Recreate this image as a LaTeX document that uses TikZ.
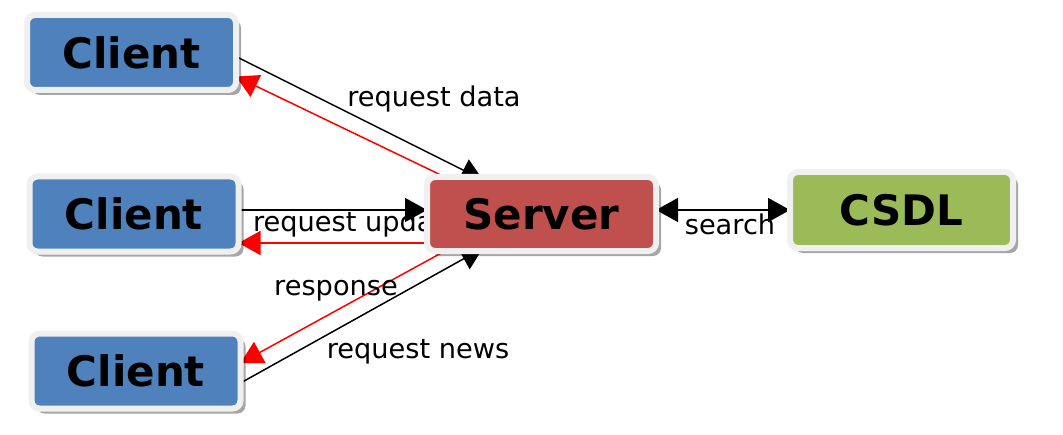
\documentclass[tikz,border=0pt]{standalone}
\usepackage{fontspec}
\setmainfont{DejaVu Sans}
\usetikzlibrary{arrows.meta,shadows,backgrounds}
\definecolor{clientblue}{HTML}{4F81BD}
\definecolor{serverred}{HTML}{C0504D}
\definecolor{dbgreen}{HTML}{9BBB59}
\definecolor{rimgray}{HTML}{F0F0F0}

\begin{document}
\begin{tikzpicture}[x=0.5pt,y=0.5pt,
    box/.style={rectangle, rounded corners=4pt, draw=rimgray, line width=3pt,
        outer sep=0pt, inner sep=0pt, font=\fontsize{21}{25}\selectfont\bfseries,
        drop shadow={shadow xshift=2.5pt,shadow yshift=-2.5pt,fill=black,opacity=0.35}},
    client/.style={box, fill=clientblue, minimum width=104.5pt, minimum height=37.5pt},
    req/.style={draw=black, line width=0.75pt, -{Triangle[length=11pt,width=12pt]}},
    resp/.style={draw=red, line width=0.75pt, -{Triangle[length=11pt,width=12pt]}},
    lbl/.style={font=\fontsize{13.6}{16}\selectfont, inner sep=0pt}]
    \useasboundingbox (0,0) rectangle (1063,434);

    \node[client] (c1) at (131.5,381.5) {Client};
    \node[client] (c2) at (134,220) {Client};
    \node[client] (c3) at (136,63) {Client};
    \node[box, fill=serverred, minimum width=114.5pt, minimum height=37pt] (srv) at (541.5,220) {Server};
    \node[box, fill=dbgreen, minimum width=111.5pt, minimum height=38pt] (db) at (901.5,224) {CSDL};

    \begin{pgfonlayer}{background}
        % client 1
        \draw[req] ([yshift=-2pt]c1.east) -- ([shift={(28pt,-1.5pt)}]srv.north west);
        \draw[resp] ([xshift=9pt]srv.north west) -- ([yshift=-12pt]c1.east);
        \node[lbl] (ldata) at (434,335) {request data};

        % client 2
        \draw[req] ([yshift=2pt]c2.east) -- ([yshift=2pt]srv.west);
        \draw[resp] ([yshift=-14.5pt]srv.west) -- ([yshift=-14.5pt]c2.east);
        \node[lbl] (lupd) at (357,210) {request update};

        % client 3
        \draw[resp] ([xshift=9pt]srv.south west) -- ([yshift=4pt]c3.east);
        \draw[req] ([yshift=-6pt]c3.east) -- ([shift={(28pt,1.5pt)}]srv.south west);
        \node[lbl] (lresp) at (336,143) {response};
        \node[lbl] (lnews) at (418,82) {request news};

        % database
        \draw[req, {Triangle[length=11pt,width=12pt]}-{Triangle[length=11pt,width=12pt]}] ([yshift=2pt]srv.east) -- (db.west);
        \node[lbl] (lsearch) at (730,210) {search};
    \end{pgfonlayer}
\end{tikzpicture}
\end{document}
